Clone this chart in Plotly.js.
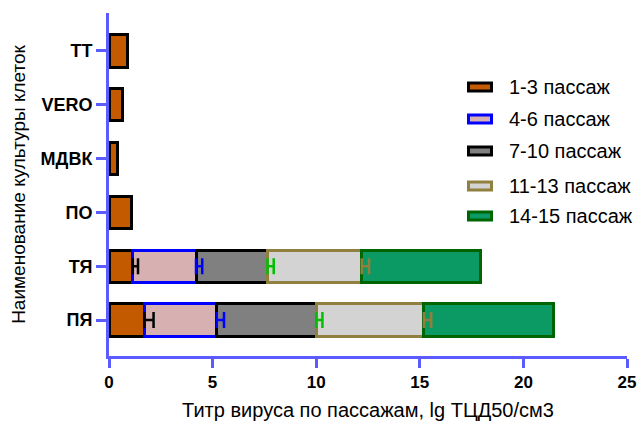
<!DOCTYPE html>
<html>
<head>
<meta charset="utf-8">
<script src="https://cdn.plot.ly/plotly-3.0.1.min.js"></script>
<style>html,body{margin:0;padding:0;background:#fff;}#chart{width:641px;height:423px;}</style>
</head>
<body>
<div id="chart"></div>
<script>
// ---- data ----
var categories = ['ТТ', 'VERO', 'МДВК', 'ПО', 'ТЯ', 'ПЯ'];
var seriesNames = ['1-3 пассаж', '4-6 пассаж', '7-10 пассаж', '11-13 пассаж', '14-15 пассаж'];
var p1_3   = [0.9, 0.65, 0.4, 1.1, 1.15, 1.7];
var p4_6   = [null, null, null, null, 3.05, 3.5];
var p7_10  = [null, null, null, null, 3.45, 4.8];
var p11_13 = [null, null, null, null, 4.55, 5.2];
var p14_15 = [null, null, null, null, 5.75, 6.25];
var err1_3   = [null, null, null, null, 0.25, 0.45];
var err4_6   = [null, null, null, null, 0.3, 0.35];
var err7_10  = [null, null, null, null, 0.3, 0.3];
var err11_13 = [null, null, null, null, 0.35, 0.35];
var xTicks = [0, 5, 10, 15, 20, 25];
var xTitle = 'Титр вируса по пассажам, lg ТЦД50/см3';
var yTitle = 'Наименование культуры клеток';

// ---- styles ----
var fills  = ['#C45A00', '#D7B1B1', '#808080', '#D3D3D3', '#0B9A63'];
var lines  = ['#000000', '#0000FF', '#000000', '#8F8040', '#006400'];
var errCol = ['#000000', '#0000FF', '#00C000', '#8F8040'];
var axisCol = '#5B5BFF';

var series = [p1_3, p4_6, p7_10, p11_13, p14_15];
var errs = [err1_3, err4_6, err7_10, err11_13];

var traces = [];
series.forEach(function (vals, i) {
  traces.push({
    type: 'bar', orientation: 'h', name: seriesNames[i],
    y: categories, x: vals,
    marker: {color: fills[i], line: {color: lines[i], width: 3}},
    showlegend: false, hoverinfo: 'x+y'
  });
});

// error bars drawn above all bars at the end of each stacked segment
var cum = categories.map(function () { return 0; });
errs.forEach(function (ev, i) {
  var vals = series[i];
  var xs = [];
  for (var k = 0; k < categories.length; k++) {
    cum[k] += (vals[k] || 0);
    xs.push(ev[k] == null ? null : cum[k]);
  }
  traces.push({
    type: 'scatter', mode: 'markers', y: categories, x: xs,
    marker: {size: 1, opacity: 0},
    error_x: {type: 'data', symmetric: false, array: ev,
              arrayminus: ev.map(function () { return 0; }),
              color: errCol[i], thickness: 2.5, width: 8},
    showlegend: false, hoverinfo: 'skip'
  });
});

// ---- custom legend (wide flat symbols) ----
var L = 109, R = 627, T = 13, B = 356;
function px(x) { return (x - L) / (R - L); }
function py(y) { return (B - y) / (B - T); }
var legY = [87, 119, 151, 186, 216];
var shapes = [], annotations = [];
seriesNames.forEach(function (nm, i) {
  shapes.push({type: 'rect', xref: 'paper', yref: 'paper',
    x0: px(468.5), x1: px(491.5), y0: py(legY[i] + 4), y1: py(legY[i] - 4),
    fillcolor: fills[i], line: {color: lines[i], width: 3}});
  annotations.push({xref: 'paper', yref: 'paper', x: px(507), y: py(legY[i]),
    xanchor: 'left', yanchor: 'middle', showarrow: false, text: nm,
    font: {family: 'Liberation Sans, Arial, sans-serif', size: 20, color: '#000'}});
});

var layout = {
  width: 641, height: 423,
  margin: {l: L, r: 641 - R, t: T, b: 423 - B},
  paper_bgcolor: '#fff', plot_bgcolor: '#fff',
  barmode: 'stack', bargap: 0.4,
  showlegend: false,
  font: {family: 'Liberation Sans, Arial, sans-serif', color: '#000'},
  xaxis: {
    range: [0, 25], tickvals: xTicks, ticktext: xTicks.map(String),
    showgrid: false, zeroline: false,
    showline: true, linecolor: axisCol, linewidth: 3,
    ticks: 'outside', ticklen: 9, tickwidth: 3, tickcolor: axisCol,
    tickfont: {size: 17, weight: 'bold', color: '#000'},
    title: {text: xTitle, standoff: 12, font: {size: 20, color: '#000'}}
  },
  yaxis: {
    type: 'category', categoryorder: 'array', categoryarray: categories,
    range: [5.667, -0.704],
    showgrid: false, zeroline: false,
    showline: true, linecolor: axisCol, linewidth: 3,
    ticks: 'outside', ticklen: 10, tickwidth: 3, tickcolor: axisCol,
    tickfont: {size: 18, weight: 'bold', color: '#000'},
    title: {text: yTitle, standoff: 10, font: {size: 19, color: '#000'}}
  },
  shapes: shapes,
  annotations: annotations
};

Plotly.newPlot('chart', traces, layout, {displayModeBar: false, staticPlot: true});
</script>
</body>
</html>
